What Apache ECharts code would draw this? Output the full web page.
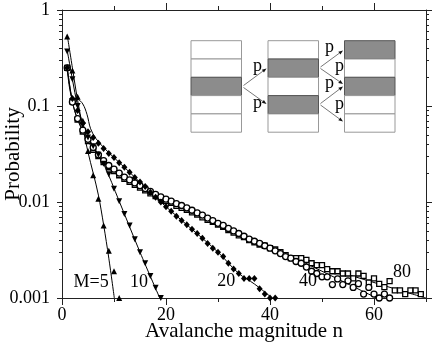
<!DOCTYPE html>
<html><head><meta charset="utf-8">
<script src="https://cdn.jsdelivr.net/npm/echarts@6/dist/echarts.min.js"></script>
<style>html,body{margin:0;padding:0;background:#fff}#c{width:436px;height:347px}</style>
</head><body><div id="c"></div>
<script>
// ---- data (n starts at 1 for every series) ----
const m5Values  = [0.53,0.234,0.125,0.07,0.034,0.019,0.0108,0.0057,0.0031,0.0019,0.001];
const m10Values = [0.37,0.19,0.1,0.063,0.047,0.038,0.031,0.025,0.0195,0.0137,0.0102,0.0075,0.0057,0.0041,0.0030,0.0023,0.0017,0.00128,0.001];
const m20Values = [0.25,0.12,0.09,0.066,0.054,0.047,0.041,0.036,0.032,0.029,0.0257,0.023,0.0204,0.018,0.0162,0.0145,0.0126,0.0112,0.01,0.0089,0.008,0.0071,0.0064,0.0058,0.0052,0.0047,0.0042,0.0037,0.0033,0.0030,0.0027,0.0023,0.0020,0.0018,0.0016,0.0016,0.0016,0.00125,0.0011,0.001,0.001];
const m40Values = [0.25,0.11,0.074,0.056,0.045,0.037,0.031,0.027,0.024,0.022,0.020,0.0182,0.017,0.0158,0.0148,0.0138,0.0129,0.012,0.0113,0.0107,0.0102,0.0096,0.0092,0.0087,0.0082,0.0077,0.0073,0.0068,0.0064,0.006,0.0057,0.0053,0.005,0.0047,0.0044,0.0041,0.0039,0.0037,0.0035,0.0033,0.0031,0.0029,0.0027,0.0026,0.0024,0.0023,0.0021,0.0019,0.0018,0.00166,0.00166,0.00138,0.00158,0.00138,0.00151,0.00129,0.00141,0.0011,0.00129,0.0011,0.001,0.0011,0.001];
const m80Values = [0.25,0.112,0.072,0.054,0.043,0.035,0.030,0.026,0.023,0.021,0.019,0.0174,0.0162,0.0151,0.0141,0.0132,0.0123,0.0115,0.011,0.0102,0.0098,0.0091,0.0087,0.0083,0.0078,0.0074,0.0069,0.0065,0.0062,0.0058,0.0055,0.0051,0.0048,0.0045,0.0043,0.0040,0.0038,0.0036,0.0035,0.0033,0.0032,0.0030,0.0028,0.0026,0.0026,0.0026,0.0025,0.0023,0.0022,0.0022,0.0020,0.0019,0.0019,0.0018,0.0018,0.0016,0.0018,0.0017,0.00145,0.0016,0.0014,0.0013,0.0015,0.0012,0.0012,0.0011,0.0012,0.0012,0.0011];
// theory curves (knots)
const thM5  = [[1,0.55],[2,0.25],[3,0.115],[4,0.06],[5,0.033],[6,0.02],[7,0.0118],[8,0.0058],[9,0.0026],[10.06,0.001]];
const thM10 = [[1,0.38],[2,0.19],[3,0.1],[4,0.065],[5,0.048],[6,0.038],[8,0.025],[11,0.0102],[15,0.003],[18.8,0.001]];
const thM20 = [[1,0.25],[2,0.12],[3,0.118],[4,0.105],[4.8,0.082],[5.5,0.058],[6.5,0.046],[8,0.037],[10,0.029],[13,0.0204],[17,0.0126],[21,0.008],[25,0.0052],[30,0.003],[34,0.0018],[37,0.0014],[40.4,0.001]];
const thM40 = [[1,0.25],[2,0.11],[3,0.074],[5,0.045],[8,0.027],[12,0.0182],[16,0.0138],[20,0.0107],[25,0.0082],[30,0.006],[35,0.0044],[40,0.0033],[45.8,0.00245],[50,0.0019],[55,0.0014],[60.5,0.001]];
const thM80 = [[1,0.25],[2,0.112],[3,0.072],[5,0.043],[8,0.026],[12,0.0174],[16,0.0132],[20,0.0102],[25,0.0078],[30,0.0058],[35,0.0043],[40,0.0033],[45,0.0026],[50,0.0021],[55,0.00175],[60,0.00145],[65,0.0012],[70,0.001]];
// curve labels and their anchors in data units
const curveLabels = ['M=5','10','20','40','80'];
const curveLabelN = [5.6,14.8,31.6,47.3,65.4];
const curveLabelP = [0.00146,0.00146,0.00148,0.00148,0.00185];
// ticks
const xMajorTicks = [0,20,40,60];
const xMinorTicks = [10,30,50,70];
const yMajorTicks = [0.001,0.01,0.1,1];
const yTickLabels = ['0.001','0.01','0.1','1'];
const yMinorTicks = [];
[0.001,0.01,0.1].forEach(d=>{for(let k=2;k<=9;k++) yMinorTicks.push(+(d*k).toPrecision(3));});

const FONT = 'Liberation Serif';
const toPairs = arr => arr.map((v,i)=>[i+1,v]);
const axisLineStyle = {color:'#222', width:1};

function xAx(pos, ticks, len, showLine, labels) {
  return {type:'value', position:pos, min:0, max:70, interval:10,
    axisLine:{show:showLine, onZero:false, lineStyle:axisLineStyle},
    axisTick:{show:true, customValues:ticks, length:len, inside:false, lineStyle:axisLineStyle},
    axisLabel: labels ? {show:true, customValues:xMajorTicks, fontFamily:FONT, fontSize:18, color:'#000', margin:8} : {show:false},
    splitLine:{show:false}};
}
function yAx(pos, ticks, len, showLine, labels) {
  return {type:'log', logBase:10, position:pos, min:0.001, max:1,
    axisLine:{show:showLine, onZero:false, lineStyle:axisLineStyle},
    axisTick:{show:true, customValues:ticks, length:len, inside:false, lineStyle:axisLineStyle},
    axisLabel: labels ? {show:true, customValues:yMajorTicks, fontFamily:FONT, fontSize:18, color:'#000', margin:12,
       formatter:v=>{let best=0;yMajorTicks.forEach((t,i)=>{if(Math.abs(Math.log10(t)-Math.log10(v))<Math.abs(Math.log10(yMajorTicks[best])-Math.log10(v)))best=i;});return yTickLabels[best];}} : {show:false},
    minorTick:{show:false}, splitLine:{show:false}};
}

const xAxes = [xAx('bottom',xMajorTicks,7,true,true), xAx('bottom',xMinorTicks,4,false,false),
               xAx('top',[20,40,60],7,true,false), xAx('top',[10,30,50],4,false,false)];
Object.assign(xAxes[0], {name:'Avalanche magnitude n', nameLocation:'middle', nameGap:23, nameMoveOverlap:false,
  nameTextStyle:{fontFamily:FONT, fontSize:21, color:'#000'}});
const yAxes = [yAx('left',yMajorTicks,5,true,true), yAx('left',yMinorTicks,3,false,false),
               yAx('right',yMajorTicks,6,true,false), yAx('right',yMinorTicks,3,false,false)];
Object.assign(yAxes[0], {name:'Probability', nameLocation:'middle', nameGap:38, nameMoveOverlap:false,
  nameTextStyle:{fontFamily:FONT, fontSize:21, color:'#000'}});

function theory(d){return {type:'line', data:d, smooth:0.35, showSymbol:false, symbol:'none', silent:true,
  lineStyle:{color:'#000', width:1}, z:2, animation:false};}
function marks(d, symbol, size, hollow, rot){return {type:'scatter', data:d, symbol:symbol, symbolSize:size, symbolRotate:rot||0, silent:true, z:3,
  itemStyle: hollow ? {color:'#fff', borderColor:'#000', borderWidth:1.3, opacity:1} : {color:'#000', opacity:1}, animation:false};}

// inset schematic
const g = [];
const colX = [191, 268, 344.5], colW = 50.5, rowTop = 40.7, rowH = 18.3;
const grayRows = [[2],[1,3],[0,2]];
colX.forEach((x,ci)=>{
  for(let r=0;r<5;r++){
    const gray = grayRows[ci].includes(r);
    g.push({type:'rect', shape:{x:x, y:rowTop+r*rowH, width:colW, height:rowH}, silent:true, z:10,
      style:{fill: gray?'#8c8c8c':'#fff', stroke: gray?'#555':'#999', lineWidth:1}});
  }
});
function arrow(x1,y1,x2,y2){
  const a=Math.atan2(y2-y1,x2-x1), L=4.5, W=1.8;
  const bx=x2-L*Math.cos(a), by=y2-L*Math.sin(a);
  g.push({type:'line', shape:{x1,y1,x2:bx,y2:by}, silent:true, z:11, style:{stroke:'#777', lineWidth:1}});
  g.push({type:'polygon', shape:{points:[[x2,y2],[bx+W*Math.sin(a),by-W*Math.cos(a)],[bx-W*Math.sin(a),by+W*Math.cos(a)]]}, silent:true, z:11, style:{fill:'#111'}});
}
arrow(243.5,85.5,266.5,68.5); arrow(243.5,87.5,266.5,104);
arrow(320.5,67,343,50.5); arrow(320.5,68.5,343,84);
arrow(320.5,103.5,343,86.5); arrow(320.5,105,343,121.5);
[[253,66],[253,103],[325,47.5],[335,66],[325,83],[335,104.5]].forEach(p=>{
  g.push({type:'text', x:p[0], y:p[1], silent:true, z:12, style:{text:'p', font:'18px "Liberation Serif"', fill:'#000', align:'left', verticalAlign:'middle'}});
});

const option = {
  animation:false,
  backgroundColor:'#fff',
  grid:{left:62, right:10, top:10, bottom:49, containLabel:false, outerBoundsMode:'none'},
  xAxis:xAxes, yAxis:yAxes,
  series:[
    theory(thM5), theory(thM10), theory(thM20), theory(thM40), theory(thM80),
    marks(toPairs(m80Values),'rect',5,true),
    marks(toPairs(m40Values),'circle',6,true),
    marks(toPairs(m20Values),'diamond',[6,7],false),
    marks(toPairs(m10Values),'triangle',6,false,180),
    marks(toPairs(m5Values),'triangle',6,false),
    {type:'scatter', silent:true, symbolSize:0, z:5, itemStyle:{opacity:1},
     data:curveLabels.map((t,i)=>({name:t, value:[curveLabelN[i],curveLabelP[i]]})),
     label:{show:true, position:'inside', formatter:p=>p.name, fontFamily:FONT, fontSize:18, color:'#000', opacity:1}}
  ],
  graphic:g
};
const chart = echarts.init(document.getElementById('c'), null, {renderer:'canvas'});
chart.setOption(option);
</script></body></html>
